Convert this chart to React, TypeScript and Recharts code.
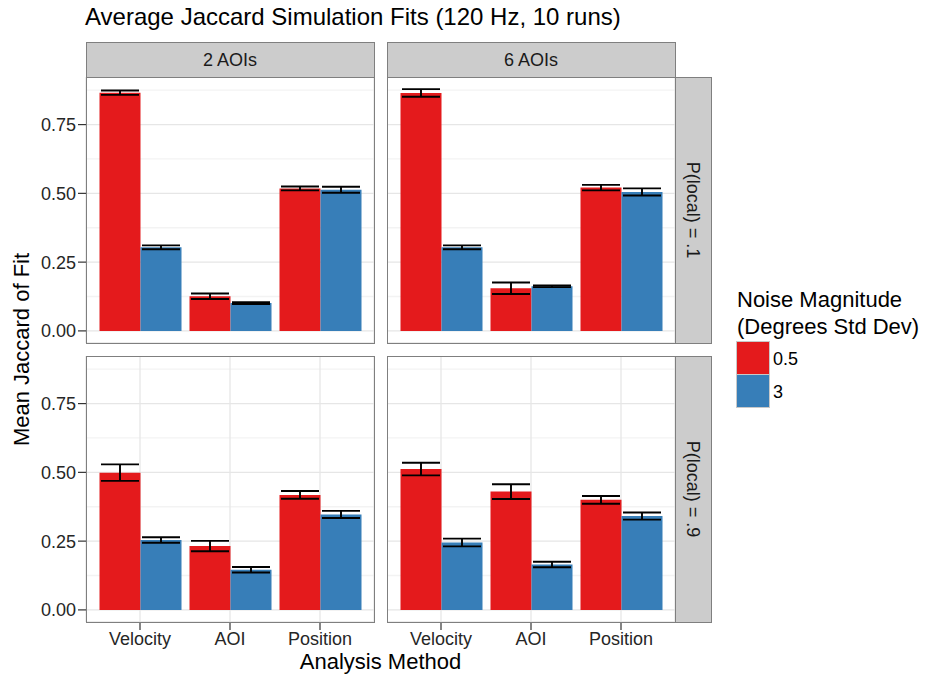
import React from 'react';
import { BarChart, Bar, XAxis, YAxis, CartesianGrid, ErrorBar } from 'recharts';

// ---- categories & labels ----
const methods = ['Velocity', 'AOI', 'Position'];
const aoiFacets = ['2 AOIs', '6 AOIs'];
const plocalFacets = ['P(local) = .1', 'P(local) = .9'];
const noiseLevels = ['0.5', '3'];
const yTicks = [0, 0.25, 0.5, 0.75];
const yMinorTicks = [0.125, 0.375, 0.625, 0.875];
const yDomain = [-0.044, 0.923];

// ---- series values (mean Jaccard) and error half-widths ----
// 2 AOIs, P(local) = .1
const mean2p1Low = [0.866, 0.126, 0.518];
const err2p1Low = [0.008, 0.010, 0.007];
const mean2p1High = [0.304, 0.101, 0.513];
const err2p1High = [0.007, 0.003, 0.011];
// 6 AOIs, P(local) = .1
const mean6p1Low = [0.865, 0.155, 0.521];
const err6p1Low = [0.014, 0.021, 0.010];
const mean6p1High = [0.304, 0.162, 0.505];
const err6p1High = [0.007, 0.003, 0.013];
// 2 AOIs, P(local) = .9
const mean2p9Low = [0.499, 0.232, 0.418];
const err2p9Low = [0.030, 0.019, 0.014];
const mean2p9High = [0.254, 0.146, 0.347];
const err2p9High = [0.010, 0.010, 0.013];
// 6 AOIs, P(local) = .9
const mean6p9Low = [0.512, 0.430, 0.400];
const err6p9Low = [0.023, 0.027, 0.014];
const mean6p9High = [0.245, 0.165, 0.341];
const err6p9High = [0.014, 0.010, 0.013];

const RED = '#E41A1C';
const BLUE = '#377EB8';
const FONT = '"Liberation Sans", Arial, Helvetica, sans-serif';
const BORDER = '#7f7f7f';
const STRIP = '#cccccc';
const AXIS_TEXT = '#262626';

function build(low: number[], lowErr: number[], high: number[], highErr: number[]) {
  return methods.map((m, i) => ({
    method: m,
    low: low[i],
    lowErr: lowErr[i],
    high: high[i],
    highErr: highErr[i],
  }));
}

const PANEL_W = 288;
const PANEL_H = 266;
const YAXIS_W = 86;
const XAXIS_H = 40;

type PanelProps = {
  data: any[];
  left: number;
  top: number;
  showY: boolean;
  showX: boolean;
};

function Panel({ data, left, top, showY, showX }: PanelProps) {
  const width = PANEL_W + (showY ? YAXIS_W : 0);
  const height = PANEL_H + (showX ? XAXIS_H : 0);
  const chartLeft = left - (showY ? YAXIS_W : 0);
  const unit = PANEL_W / 3.2;
  return (
    <>
      <div style={{ position: 'absolute', left: chartLeft, top, width, height }}>
        <BarChart
          width={width}
          height={height}
          data={data}
          margin={{ top: 0, right: 0, bottom: 0, left: 0 }}
          barCategoryGap="5%"
          barGap={0}
        >
          <CartesianGrid
            horizontalValues={yMinorTicks}
            vertical={false}
            stroke="#f3f3f3"
            strokeWidth={1.3}
          />
          <CartesianGrid stroke="#e6e6e6" strokeWidth={1.3} />
          <XAxis
            dataKey="method"
            type="category"
            padding={{ left: unit * 0.1, right: unit * 0.1 }}
            axisLine={false}
            tickLine={showX ? { stroke: '#333333', strokeWidth: 1.2 } : false}
            tick={showX ? { fill: AXIS_TEXT, fontSize: 18, fontFamily: FONT } : false}
            tickSize={8}
            tickMargin={2}
            height={showX ? XAXIS_H : 0}
            interval={0}
          />
          <YAxis
            type="number"
            domain={yDomain}
            ticks={yTicks}
            hide={!showY}
            width={YAXIS_W}
            axisLine={false}
            tickLine={{ stroke: '#333333', strokeWidth: 1.2 }}
            tick={{ fill: AXIS_TEXT, fontSize: 18, fontFamily: FONT }}
            tickSize={8}
            tickMargin={2}
            tickFormatter={(v: number) => v.toFixed(2)}
            allowDataOverflow
          />
          <Bar dataKey="low" fill={RED} isAnimationActive={false}>
            <ErrorBar dataKey="lowErr" width={19} stroke="#000" strokeWidth={1.9} isAnimationActive={false} />
          </Bar>
          <Bar dataKey="high" fill={BLUE} isAnimationActive={false}>
            <ErrorBar dataKey="highErr" width={19} stroke="#000" strokeWidth={1.9} isAnimationActive={false} />
          </Bar>
        </BarChart>
      </div>
      <div
        style={{
          position: 'absolute',
          left,
          top,
          width: PANEL_W + 1,
          height: PANEL_H + 1,
          border: `1px solid ${BORDER}`,
          boxSizing: 'border-box',
          pointerEvents: 'none',
        }}
      />
    </>
  );
}

export default function App() {
  const colX = [86, 387];
  const rowY = [77, 356];
  const stripRightX = colX[1] + PANEL_W;
  return (
    <div
      style={{
        position: 'absolute',
        left: 0,
        top: 0,
        width: 928,
        height: 675,
        background: '#ffffff',
        fontFamily: FONT,
        overflow: 'hidden',
      }}
    >
      <svg width={928} height={675} style={{ position: 'absolute', left: 0, top: 0 }}>
        <text x={85} y={25} fontSize={24} fill="#000" fontFamily={FONT}>
          Average Jaccard Simulation Fits (120 Hz, 10 runs)
        </text>
        {aoiFacets.map((f, i) => (
          <g key={f}>
            <rect x={colX[i] + 0.5} y={42.5} width={PANEL_W} height={35} fill={STRIP} stroke={BORDER} strokeWidth={1} />
            <text x={colX[i] + PANEL_W / 2} y={66} fontSize={18} fill="#1a1a1a" textAnchor="middle" fontFamily={FONT}>
              {f}
            </text>
          </g>
        ))}
        {plocalFacets.map((f, i) => (
          <g key={f}>
            <rect x={stripRightX + 0.5} y={rowY[i] + 0.5} width={36} height={PANEL_H} fill={STRIP} stroke={BORDER} strokeWidth={1} />
            <text
              x={0}
              y={0}
              fontSize={18}
              fill="#1a1a1a"
              textAnchor="middle"
              fontFamily={FONT}
              transform={`translate(${stripRightX + 11.5}, ${rowY[i] + PANEL_H / 2}) rotate(90)`}
            >
              {f}
            </text>
          </g>
        ))}
        <text
          x={0}
          y={0}
          fontSize={22}
          fill="#000"
          textAnchor="middle"
          fontFamily={FONT}
          transform={`translate(28.5, ${(rowY[0] + rowY[1] + PANEL_H) / 2}) rotate(-90)`}
        >
          Mean Jaccard of Fit
        </text>
        <text x={(colX[0] + colX[1] + PANEL_W) / 2} y={669} fontSize={22} fill="#000" textAnchor="middle" fontFamily={FONT}>
          Analysis Method
        </text>
        <text x={737} y={307} fontSize={22} fill="#000" fontFamily={FONT}>
          Noise Magnitude
        </text>
        <text x={737} y={333.5} fontSize={22} fill="#000" fontFamily={FONT}>
          (Degrees Std Dev)
        </text>
        {noiseLevels.map((lv, i) => (
          <g key={lv}>
            <rect x={736.5} y={341.5 + i * 33} width={33} height={33} fill={i === 0 ? RED : BLUE} stroke="#c8c8c8" strokeWidth={1} />
            <text x={773} y={364.5 + i * 33} fontSize={18} fill="#000" fontFamily={FONT}>
              {lv}
            </text>
          </g>
        ))}
      </svg>
      <Panel data={build(mean2p1Low, err2p1Low, mean2p1High, err2p1High)} left={colX[0]} top={rowY[0]} showY showX={false} />
      <Panel data={build(mean6p1Low, err6p1Low, mean6p1High, err6p1High)} left={colX[1]} top={rowY[0]} showY={false} showX={false} />
      <Panel data={build(mean2p9Low, err2p9Low, mean2p9High, err2p9High)} left={colX[0]} top={rowY[1]} showY showX />
      <Panel data={build(mean6p9Low, err6p9Low, mean6p9High, err6p9High)} left={colX[1]} top={rowY[1]} showY={false} showX />
    </div>
  );
}
